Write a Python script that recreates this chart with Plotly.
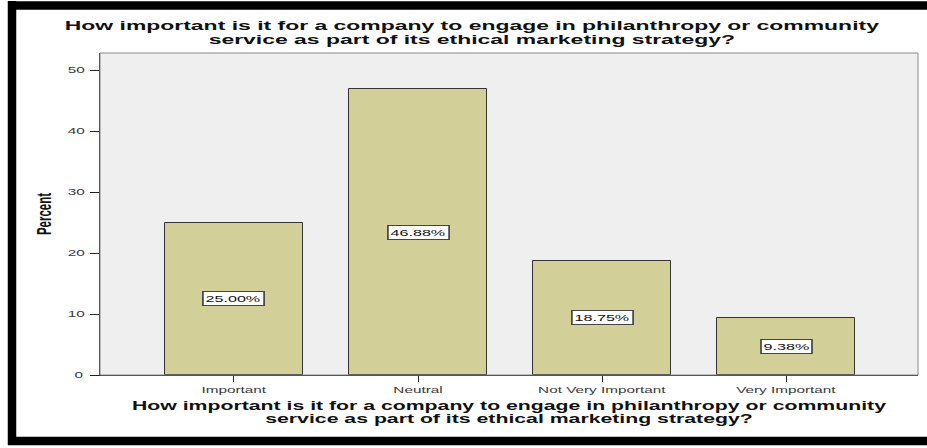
import plotly.graph_objects as go

# Survey responses (percent of respondents)
categories = ["Important", "Neutral", "Not Very Important", "Very Important"]
percents = [25.00, 46.88, 18.75, 9.38]
y_ticks = [0, 10, 20, 30, 40, 50]

question = ("How important is it for a company to engage in philanthropy or community"
            "<br>service as part of its ethical marketing strategy?")

W, H = 927, 448
L, R, T, B = 100, 9, 53, 73
PW, PH = W - L - R, H - T - B


def px_x(px):
    return (px - L) / PW


def px_y(py):
    return (H - B - py) / PH


BAR = "#d3cf98"
INK = "#222222"
TICK = "#3a3a3a"
FONT = "Liberation Sans, Arial"

fig = go.Figure()
fig.add_trace(go.Bar(
    x=list(range(len(categories))),
    y=percents,
    width=0.75,
    marker=dict(color=BAR, line=dict(color="#333333", width=1)),
    hoverinfo="skip",
    showlegend=False,
))

# value labels in boxed tags at mid-height of each bar
for i, v in enumerate(percents):
    fig.add_annotation(
        x=i, y=v / 2, xref="x", yref="y",
        text=f"{v:.2f}%", showarrow=False,
        font=dict(family=FONT, size=9.5, color="#111111"),
        bgcolor="white", bordercolor="#444444", borderwidth=1, borderpad=1,
    )

# plot frame
fig.add_shape(type="rect", xref="paper", yref="paper", x0=0, x1=1, y0=0, y1=1,
              line=dict(color="#8a8a8a", width=1), layer="above")
# page border: left, top and bottom black bands
border = dict(color="black", width=8.5)
fig.add_shape(type="line", xref="paper", yref="paper",
              x0=px_x(12), x1=px_x(12), y0=px_y(445), y1=px_y(1), line=border, layer="above")
fig.add_shape(type="line", xref="paper", yref="paper",
              x0=px_x(8), x1=px_x(W + 20), y0=px_y(5.5), y1=px_y(5.5), line=border, layer="above")
fig.add_shape(type="line", xref="paper", yref="paper",
              x0=px_x(8), x1=px_x(W + 20), y0=px_y(441), y1=px_y(441), line=border, layer="above")

fig.update_layout(
    width=W, height=H,
    margin=dict(l=L, r=R, t=T, b=B),
    paper_bgcolor="white",
    plot_bgcolor="#efefef",
    bargap=0,
    title=dict(
        text=question,
        font=dict(family=FONT, size=13.5, color="#111111", weight="bold"),
        x=472 / W, xanchor="center", xref="container",
        y=1 - 30 / H, yanchor="top", yref="container",
    ),
    xaxis=dict(
        range=[-0.728, 3.717],
        tickmode="array", tickvals=list(range(len(categories))), ticktext=categories,
        ticks="outside", ticklen=6, tickcolor=INK, tickwidth=1,
        tickfont=dict(family=FONT, size=9, color=TICK),
        showline=True, linecolor=INK, linewidth=1,
        showgrid=False, zeroline=False,
        title=dict(text=question, standoff=7,
                   font=dict(family=FONT, size=12.5, color="#111111", weight="bold")),
    ),
    yaxis=dict(
        range=[0, 52.8],
        tickmode="array", tickvals=y_ticks,
        ticks="outside", ticklen=9, tickcolor=INK, tickwidth=1,
        tickfont=dict(family=FONT, size=9, color=TICK),
        ticklabelstandoff=7,
        showline=True, linecolor=INK, linewidth=1,
        showgrid=False, zeroline=False,
        title=dict(text="Percent", standoff=19,
                   font=dict(family=FONT, size=11.5, color="#111111", weight="bold")),
    ),
)

# tighten the two-line titles, then widen every text run horizontally
# (and the value tags) about its own centre
stretch_js = """
var gd = document.getElementById('{plot_id}');
var S = 1.7, LEAD = 0.8;
gd.querySelectorAll('text.gtitle tspan.line, text.xtitle tspan.line').forEach(function (ts) {
  var dy = parseFloat(ts.getAttribute('dy') || '0');
  if (dy > 0) ts.setAttribute('dy', (dy * LEAD) + 'em');
});
function stretch(el) {
  var r = el.getBoundingClientRect();
  if (!r.width) return;
  var m = el.parentNode.getScreenCTM();
  var cx = (r.left + r.width / 2 - m.e) / m.a;
  var old = el.getAttribute('transform') || '';
  el.setAttribute('transform', 'translate(' + cx + ',0) scale(' + S + ',1) translate(' + (-cx) + ',0) ' + old);
}
gd.querySelectorAll('g.annotation-text-g').forEach(stretch);
gd.querySelectorAll('text').forEach(function (t) {
  if (!t.closest('g.annotation')) stretch(t);
});
"""

fig.write_html("out.html", post_script=stretch_js, config={"displayModeBar": False})
